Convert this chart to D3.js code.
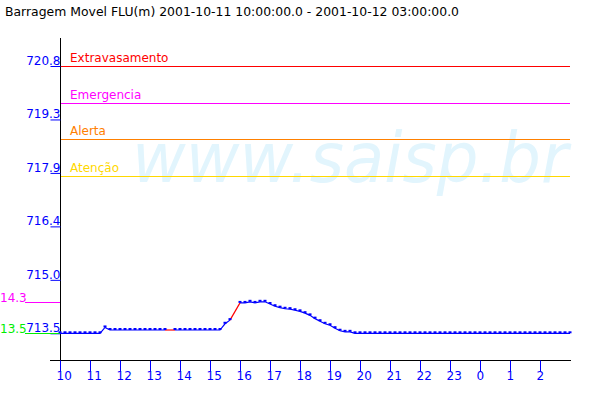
<!DOCTYPE html>
<html>
<head>
<meta charset="utf-8">
<script src="https://cdn.jsdelivr.net/npm/d3@7/dist/d3.min.js"></script>
<style>
  html, body { margin: 0; padding: 0; background: #fff; }
  svg { display: block; font-family: "DejaVu Sans", sans-serif; }
</style>
</head>
<body>
<svg id="chart" width="600" height="400"></svg>
<script>
// ---- data ----
const titleText = "Barragem Movel FLU(m) 2001-10-11 10:00:00.0 - 2001-10-12 03:00:00.0";
const startHour = 10;      // 2001-10-11 10:00
const endHour = 27;        // 2001-10-12 03:00
const stepMinutes = 10;
// level readings (m), every 10 minutes from 10:00; null = missing reading
const levels = [
  713.50, 713.50, 713.50, 713.50, 713.50, 713.50, 713.50, 713.50, 713.50, 713.66,
  713.59, 713.59, 713.59, 713.59, 713.59, 713.59, 713.59, 713.59, 713.59, 713.59,
  713.59, 713.59, null,   713.59, 713.59, 713.59, 713.59, 713.59, 713.59, 713.59,
  713.59, 713.59, 713.59, 713.76, 713.86, null,   714.33, 714.33, 714.36, 714.33,
  714.36, 714.36, 714.30, 714.24, 714.20, 714.17, 714.16, 714.13, 714.10, 714.05,
  713.99, 713.90, 713.83, 713.76, 713.72, 713.64, 713.57, 713.54, 713.54, 713.50,
  713.50, 713.50, 713.50, 713.50, 713.50, 713.50, 713.50, 713.50, 713.50, 713.50,
  713.50, 713.50, 713.50, 713.50, 713.50, 713.50, 713.50, 713.50, 713.50, 713.50,
  713.50, 713.50, 713.50, 713.50, 713.50, 713.50, 713.50, 713.50, 713.50, 713.50,
  713.50, 713.50, 713.50, 713.50, 713.50, 713.50, 713.50, 713.50, 713.50, 713.50,
  713.50, 713.50, 713.50
];
const thresholdNames = ["Extravasamento", "Emergencia", "Alerta", "Atenção"];
const thresholdValues = [720.8, 719.8, 718.8, 717.8];
const thresholdColors = ["#ff0000", "#ff00ff", "#ff8000", "#ffd800"];
const yTickValues = [713.5, 714.96, 716.42, 717.88, 719.34, 720.8];
const yTickLabels = ["713.5", "715.0", "716.4", "717.9", "719.3", "720.8"];
const xTickValues = [10, 11, 12, 13, 14, 15, 16, 17, 18, 19, 20, 21, 22, 23, 24, 25, 26];
const xTickLabels = ["10", "11", "12", "13", "14", "15", "16", "17", "18", "19", "20", "21", "22", "23", "0", "1", "2"];
const maxLabel = "14.3", maxValue = 714.35;
const minLabel = "13.5", minValue = 713.5;
const watermark = "www.saisp.br";

// ---- layout ----
const svg = d3.select("#chart");
const x = d3.scaleLinear().domain([startHour, endHour]).range([60, 570]);
const y = d3.scaleLinear().domain([713.5, 720.8]).range([333.3, 66]);
const blue = "#0000ff";

const points = levels.map((v, i) => ({ t: startHour + i * stepMinutes / 60, v }));

// title
svg.append("text").attr("x", 5).attr("y", 16).attr("font-size", 12)
  .attr("textLength", 454).attr("lengthAdjust", "spacingAndGlyphs")
  .attr("fill", "#000").text(titleText);

// watermark
svg.append("text").attr("x", 132).attr("y", 182)
  .attr("font-size", 70).attr("font-style", "italic")
  .attr("textLength", 436).attr("lengthAdjust", "spacingAndGlyphs")
  .attr("fill", "#e2f5fd").text(watermark);

// threshold lines
thresholdValues.forEach((v, i) => {
  svg.append("line").attr("x1", 60).attr("x2", 570)
    .attr("y1", Math.round(y(v)) + 0.5).attr("y2", Math.round(y(v)) + 0.5)
    .attr("stroke", thresholdColors[i]).attr("stroke-width", 1);
  svg.append("text").attr("x", 70).attr("y", Math.round(y(v)) - 4)
    .attr("font-size", 12).attr("fill", thresholdColors[i]).text(thresholdNames[i]);
});

// axes lines
svg.append("line").attr("x1", 60.5).attr("x2", 60.5).attr("y1", 38).attr("y2", 360)
  .attr("stroke", "#000");
svg.append("line").attr("x1", 50).attr("x2", 571).attr("y1", 360.5).attr("y2", 360.5)
  .attr("stroke", "#000");

// x axis ticks
const xAxis = d3.axisBottom(x).tickValues(xTickValues).tickSize(11).tickPadding(0)
  .tickFormat((d, i) => xTickLabels[i]);
const gx = svg.append("g").attr("transform", "translate(0,360.5)").call(xAxis);
gx.select(".domain").remove();
gx.selectAll(".tick line").attr("stroke", blue);
gx.selectAll(".tick text").attr("fill", blue).attr("font-size", 12)
  .attr("font-family", "DejaVu Sans, sans-serif")
  .attr("text-anchor", "start").attr("x", -4).attr("y", 19).attr("dy", 0);

// y axis ticks
const yAxis = d3.axisLeft(y).tickValues(yTickValues).tickSize(10).tickPadding(0)
  .tickFormat((d, i) => yTickLabels[i]);
const gy = svg.append("g").attr("transform", "translate(60.5,0)").call(yAxis);
gy.select(".domain").remove();
gy.selectAll(".tick line").attr("stroke", blue);
gy.selectAll(".tick text").attr("fill", blue).attr("font-size", 12)
  .attr("font-family", "DejaVu Sans, sans-serif")
  .attr("text-anchor", "end").attr("x", 0).attr("dy", -1.5);

// max / min markers on the left
[[maxLabel, maxValue, "#ff00ff"], [minLabel, minValue, "#00ee00"]].forEach(([lab, v, c]) => {
  const yy = Math.round(y(v)) + 0.5;
  svg.append("line").attr("x1", 25).attr("x2", 60).attr("y1", yy).attr("y2", yy)
    .attr("stroke", c);
  svg.append("text").attr("x", 0).attr("y", yy - 1).attr("font-size", 12)
    .attr("fill", c).text(lab);
});

// series line (blue where readings are consecutive)
const line = d3.line().defined(d => d.v !== null).x(d => x(d.t)).y(d => y(d.v));
svg.append("path").datum(points).attr("d", line)
  .attr("fill", "none").attr("stroke", blue).attr("stroke-width", 1.2);

// red segments across missing readings
const gaps = [];
points.forEach((p, i) => {
  if (p.v === null) {
    let a = i - 1, b = i + 1;
    while (b < points.length && points[b].v === null) b++;
    if (a >= 0 && b < points.length && points[a].v !== null) gaps.push([points[a], points[b]]);
  }
});
svg.selectAll(".gap").data(gaps).enter().append("line")
  .attr("x1", d => x(d[0].t)).attr("y1", d => y(d[0].v))
  .attr("x2", d => x(d[1].t)).attr("y2", d => y(d[1].v))
  .attr("stroke", "#ff0000").attr("stroke-width", 1.2);

// markers
svg.selectAll(".pt").data(points.filter(p => p.v !== null)).enter().append("rect")
  .attr("x", d => x(d.t) - 1.5).attr("y", d => y(d.v) - 2)
  .attr("width", 3).attr("height", 2).attr("fill", blue);
</script>
</body>
</html>
